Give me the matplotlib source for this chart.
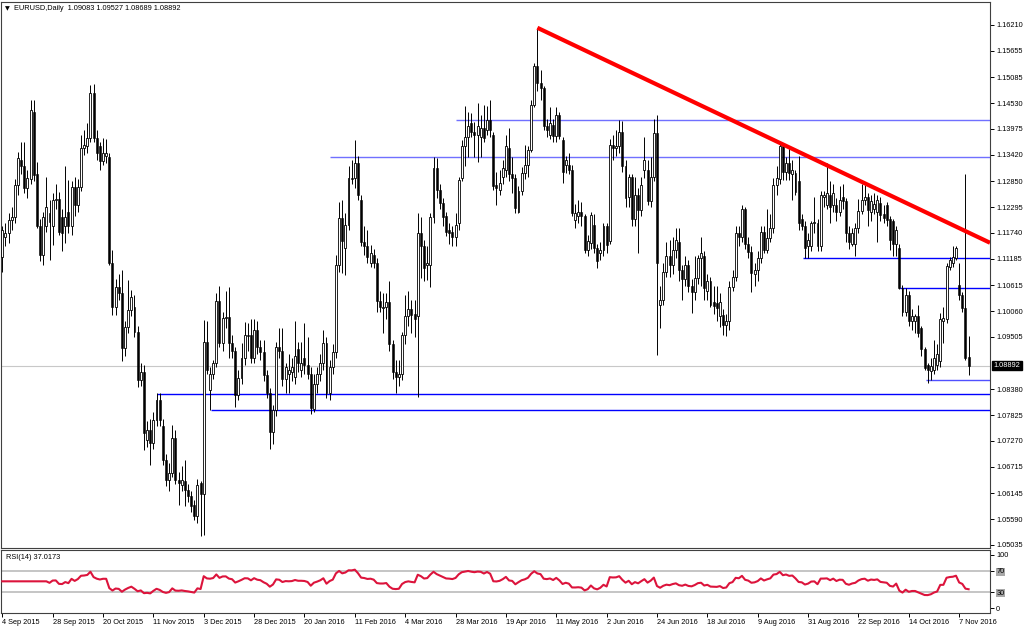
import numpy as np
import pandas as pd
import matplotlib
matplotlib.use("Agg")
import matplotlib.pyplot as plt

# EURUSD daily bars, 4 Sep 2015 .. 10 Nov 2016
opens = [
    1.1123, 1.1166, 1.1173, 1.1202, 1.1209, 1.1277, 1.1331, 1.1317, 1.1270, 1.1290,
    1.1435, 1.1300, 1.1188, 1.1127, 1.1188, 1.1216, 1.1188, 1.1245, 1.1248, 1.1209,
    1.1188, 1.1220, 1.1188, 1.1273, 1.1234, 1.1273, 1.1356, 1.1360, 1.1378, 1.1474,
    1.1378, 1.1360, 1.1328, 1.1340, 1.1338, 1.1109, 1.1016, 1.1059, 1.1045, 1.0927,
    1.0973, 1.1009, 1.1016, 1.0962, 1.0858, 1.0876, 1.0730, 1.0751, 1.0723, 1.0773,
    1.0816, 1.0760, 1.0687, 1.0644, 1.0658, 1.0733, 1.0644, 1.0633, 1.0640, 1.0622,
    1.0608, 1.0590, 1.0565, 1.0636, 1.0613, 1.0940, 1.0837, 1.0872, 1.0894, 1.1027,
    1.0937, 1.0991, 1.0994, 1.0937, 1.0920, 1.0826, 1.0862, 1.0905, 1.0955, 1.0955,
    1.0905, 1.0966, 1.0930, 1.0918, 1.0869, 1.0830, 1.0746, 1.0794, 1.0930, 1.0920,
    1.0860, 1.0870, 1.0875, 1.0865, 1.0925, 1.0880, 1.0905, 1.0890, 1.0872, 1.0795,
    1.0850, 1.0870, 1.0895, 1.0937, 1.0830, 1.0885, 1.0918, 1.1105, 1.1206, 1.1141,
    1.1191, 1.1292, 1.1292, 1.1324, 1.1245, 1.1155, 1.1145, 1.1109, 1.1127, 1.1109,
    1.1027, 1.1013, 1.1016, 1.1025, 1.0935, 1.0875, 1.0865, 1.0870, 1.0955, 1.0995,
    1.1010, 1.1000, 1.0995, 1.1173, 1.1145, 1.1105, 1.1105, 1.1209, 1.1313, 1.1267,
    1.1238, 1.1210, 1.1180, 1.1177, 1.1165, 1.1195, 1.1292, 1.1360, 1.1381, 1.1410,
    1.1392, 1.1385, 1.1380, 1.1400, 1.1395, 1.1417, 1.1385, 1.1277, 1.1267, 1.1295,
    1.1310, 1.1356, 1.1300, 1.1292, 1.1220, 1.1265, 1.1302, 1.1320, 1.1352, 1.1449,
    1.1532, 1.1496, 1.1485, 1.1403, 1.1385, 1.1405, 1.1382, 1.1428, 1.1374, 1.1320,
    1.1320, 1.1310, 1.1202, 1.1210, 1.1220, 1.1210, 1.1138, 1.1152, 1.1191, 1.1141,
    1.1131, 1.1138, 1.1188, 1.1156, 1.1363, 1.1356, 1.1360, 1.1392, 1.1317, 1.1252,
    1.1295, 1.1205, 1.1256, 1.1224, 1.1310, 1.1310, 1.1242, 1.1295, 1.1388, 1.1020,
    1.1030, 1.1090, 1.1125, 1.1105, 1.1138, 1.1155, 1.1095, 1.1075, 1.1105, 1.1060,
    1.1048, 1.1077, 1.1120, 1.1125, 1.1050, 1.1070, 1.1025, 1.1023, 1.0995, 1.0998,
    1.0977, 1.0984, 1.1059, 1.1080, 1.1173, 1.1165, 1.1225, 1.1150, 1.1133, 1.1085,
    1.1095, 1.1120, 1.1177, 1.1138, 1.1163, 1.1184, 1.1277, 1.1290, 1.1360, 1.1305,
    1.1324, 1.1300, 1.1302, 1.1285, 1.1205, 1.1188, 1.1145, 1.1145, 1.1195, 1.1195,
    1.1145, 1.1252, 1.1235, 1.1255, 1.1235, 1.1235, 1.1220, 1.1252, 1.1242, 1.1174,
    1.1150, 1.1150, 1.1185, 1.1222, 1.1245, 1.1252, 1.1220, 1.1225, 1.1220, 1.1238,
    1.1215, 1.1235, 1.1205, 1.1200, 1.1150, 1.1141, 1.1055, 1.1005, 1.1040, 1.0985,
    1.0985, 1.0995, 1.0970, 1.0925, 1.0890, 1.0878, 1.0880, 1.0890, 1.0898, 1.0985,
    1.0990, 1.1100, 1.1110, 1.1120, 1.1062, 1.1040, 1.1013, 1.09083,
]
highs = [
    1.1190, 1.1195, 1.1216, 1.1230, 1.1290, 1.1349, 1.1370, 1.1370, 1.1310, 1.1460,
    1.1460, 1.1327, 1.1205, 1.1220, 1.1295, 1.1245, 1.1260, 1.1280, 1.1262, 1.1225,
    1.1317, 1.1288, 1.1285, 1.1295, 1.1290, 1.1385, 1.1395, 1.1410, 1.1492, 1.1495,
    1.1395, 1.1370, 1.1378, 1.1375, 1.1345, 1.1138, 1.1075, 1.1085, 1.1095, 1.0985,
    1.1073, 1.1052, 1.1040, 1.0975, 1.0894, 1.0890, 1.0770, 1.0775, 1.0790, 1.0830,
    1.0830, 1.0775, 1.0700, 1.0680, 1.0762, 1.0750, 1.0660, 1.0673, 1.0687, 1.0635,
    1.0620, 1.0600, 1.0645, 1.0640, 1.0986, 1.0985, 1.0885, 1.0900, 1.1045, 1.1060,
    1.1005, 1.1050, 1.1058, 1.0955, 1.0930, 1.0880, 1.0937, 1.0983, 1.0980, 1.0990,
    1.0990, 1.0985, 1.0945, 1.0945, 1.0880, 1.0840, 1.0805, 1.0940, 1.0970, 1.0970,
    1.0895, 1.0915, 1.0905, 1.0985, 1.0940, 1.0940, 1.0980, 1.0950, 1.0885, 1.0870,
    1.0885, 1.0915, 1.0966, 1.0950, 1.0900, 1.0935, 1.1127, 1.1241, 1.1245, 1.1216,
    1.1317, 1.1330, 1.1374, 1.1340, 1.1256, 1.1190, 1.1180, 1.1148, 1.1140, 1.1120,
    1.1050, 1.1045, 1.1045, 1.1070, 1.0945, 1.0900, 1.0900, 1.0962, 1.1040, 1.1050,
    1.1030, 1.1030, 1.1216, 1.1209, 1.1160, 1.1145, 1.1216, 1.1338, 1.1335, 1.1280,
    1.1250, 1.1220, 1.1195, 1.1190, 1.1216, 1.1295, 1.1374, 1.1446, 1.1435, 1.1431,
    1.1413, 1.1453, 1.1428, 1.1450, 1.1446, 1.1460, 1.1390, 1.1306, 1.1310, 1.1331,
    1.1385, 1.1400, 1.1338, 1.1300, 1.1275, 1.1315, 1.1363, 1.1360, 1.1460, 1.1540,
    1.1614, 1.1525, 1.1490, 1.1420, 1.1445, 1.1420, 1.1445, 1.1435, 1.1380, 1.1340,
    1.1345, 1.1320, 1.1236, 1.1245, 1.1241, 1.1215, 1.1170, 1.1220, 1.1215, 1.1150,
    1.1155, 1.1195, 1.1195, 1.1375, 1.1385, 1.1395, 1.1417, 1.1415, 1.1330, 1.1300,
    1.1300, 1.1295, 1.1270, 1.1295, 1.1381, 1.1330, 1.1338, 1.1420, 1.1428, 1.1060,
    1.1110, 1.1155, 1.1160, 1.1165, 1.1185, 1.1185, 1.1105, 1.1125, 1.1115, 1.1075,
    1.1125, 1.1127, 1.1165, 1.1135, 1.1085, 1.1080, 1.1060, 1.1060, 1.1045, 1.1010,
    1.1000, 1.1070, 1.1095, 1.1190, 1.1190, 1.1235, 1.1230, 1.1165, 1.1145, 1.1110,
    1.1135, 1.1188, 1.1188, 1.1225, 1.1215, 1.1292, 1.1317, 1.1367, 1.1366, 1.1338,
    1.1360, 1.1330, 1.1310, 1.1340, 1.1215, 1.1200, 1.1175, 1.1200, 1.1252, 1.1205,
    1.1265, 1.1265, 1.1324, 1.1285, 1.1280, 1.1250, 1.1275, 1.1280, 1.1250, 1.1190,
    1.1185, 1.1195, 1.1248, 1.1280, 1.1278, 1.1260, 1.1255, 1.1260, 1.1255, 1.1252,
    1.1235, 1.1240, 1.1210, 1.1205, 1.1190, 1.1150, 1.1062, 1.1055, 1.1050, 1.1010,
    1.1000, 1.1020, 1.0975, 1.0930, 1.0895, 1.0905, 1.0945, 1.0935, 1.1001, 1.1015,
    1.1109, 1.1123, 1.1145, 1.1145, 1.1109, 1.1048, 1.1300, 1.09527,
]
lows = [
    1.1091, 1.1145, 1.1152, 1.1180, 1.1195, 1.1256, 1.1300, 1.1259, 1.1250, 1.1280,
    1.1285, 1.1184, 1.1113, 1.1105, 1.1177, 1.1116, 1.1148, 1.1225, 1.1170, 1.1135,
    1.1152, 1.1175, 1.1170, 1.1210, 1.1220, 1.1265, 1.1342, 1.1345, 1.1370, 1.1370,
    1.1330, 1.1310, 1.1320, 1.1325, 1.1105, 1.0998, 1.0998, 1.1030, 1.0898, 1.0909,
    1.0960, 1.0995, 1.0950, 1.0844, 1.0845, 1.0708, 1.0715, 1.0675, 1.0710, 1.0760,
    1.0760, 1.0675, 1.0630, 1.0619, 1.0650, 1.0635, 1.0590, 1.0620, 1.0587, 1.0595,
    1.0575, 1.0558, 1.0550, 1.0522, 1.0524, 1.0870, 1.0793, 1.0860, 1.0885, 1.0930,
    1.0920, 1.0970, 1.0905, 1.0905, 1.0801, 1.0815, 1.0850, 1.0890, 1.0920, 1.0895,
    1.0895, 1.0915, 1.0900, 1.0855, 1.0820, 1.0710, 1.0720, 1.0780, 1.0905, 1.0845,
    1.0830, 1.0830, 1.0855, 1.0850, 1.0875, 1.0865, 1.0870, 1.0860, 1.0785, 1.0790,
    1.0830, 1.0855, 1.0880, 1.0820, 1.0815, 1.0870, 1.0905, 1.1090, 1.1088, 1.1084,
    1.1180, 1.1280, 1.1270, 1.1245, 1.1145, 1.1127, 1.1109, 1.1100, 1.1098, 1.1005,
    1.1005, 1.0960, 1.0990, 1.0920, 1.0860, 1.0830, 1.0845, 1.0858, 1.0935, 1.0975,
    1.0960, 1.0950, 1.0822, 1.1077, 1.1070, 1.1073, 1.1059, 1.1195, 1.1250, 1.1225,
    1.1188, 1.1167, 1.1150, 1.1145, 1.1145, 1.1180, 1.1285, 1.1317, 1.1338, 1.1380,
    1.1338, 1.1327, 1.1338, 1.1370, 1.1385, 1.1380, 1.1267, 1.1235, 1.1255, 1.1280,
    1.1295, 1.1285, 1.1260, 1.1216, 1.1216, 1.1255, 1.1290, 1.1295, 1.1348, 1.1445,
    1.1480, 1.1460, 1.1395, 1.1380, 1.1375, 1.1370, 1.1370, 1.1375, 1.1281, 1.1303,
    1.1300, 1.1210, 1.1185, 1.1195, 1.1188, 1.1131, 1.1125, 1.1140, 1.1130, 1.1098,
    1.1115, 1.1125, 1.1130, 1.1150, 1.1330, 1.1340, 1.1345, 1.1305, 1.1230, 1.1230,
    1.1188, 1.1188, 1.1130, 1.1210, 1.1292, 1.1235, 1.1230, 1.1285, 1.0912, 1.0970,
    1.1020, 1.1080, 1.1080, 1.1085, 1.1120, 1.1070, 1.1030, 1.1060, 1.1048, 1.1002,
    1.1030, 1.1065, 1.1060, 1.1030, 1.1030, 1.1015, 1.1000, 1.0985, 1.0973, 1.0955,
    1.0952, 1.0966, 1.1050, 1.1070, 1.1145, 1.1155, 1.1140, 1.1120, 1.1048, 1.1060,
    1.1070, 1.1110, 1.1130, 1.1130, 1.1155, 1.1175, 1.1255, 1.1280, 1.1287, 1.1288,
    1.1288, 1.1245, 1.1255, 1.1180, 1.1180, 1.1120, 1.1120, 1.1135, 1.1175, 1.1135,
    1.1135, 1.1230, 1.1225, 1.1195, 1.1220, 1.1200, 1.1210, 1.1225, 1.1155, 1.1140,
    1.1145, 1.1125, 1.1175, 1.1215, 1.1235, 1.1190, 1.1200, 1.1215, 1.1155, 1.1200,
    1.1195, 1.1190, 1.1138, 1.1125, 1.1125, 1.1053, 1.0995, 1.0995, 1.0975, 1.0965,
    1.0960, 1.0950, 1.0910, 1.0880, 1.0851, 1.0858, 1.0870, 1.0880, 1.0885, 1.0937,
    1.0980, 1.1095, 1.1100, 1.1115, 1.1030, 1.1005, 1.0900, 1.08689,
]
closes = [
    1.1180, 1.1173, 1.1202, 1.1209, 1.1277, 1.1335, 1.1317, 1.1270, 1.1292, 1.1438,
    1.1299, 1.1188, 1.1127, 1.1209, 1.1230, 1.1198, 1.1245, 1.1248, 1.1177, 1.1173,
    1.1209, 1.1188, 1.1273, 1.1234, 1.1273, 1.1356, 1.1363, 1.1378, 1.1474, 1.1378,
    1.1345, 1.1328, 1.1345, 1.1345, 1.1109, 1.1016, 1.1059, 1.1045, 1.0927, 1.0973,
    1.1009, 1.1037, 1.0962, 1.0858, 1.0876, 1.0744, 1.0751, 1.0723, 1.0773, 1.0816,
    1.0773, 1.0687, 1.0644, 1.0658, 1.0733, 1.0644, 1.0637, 1.0644, 1.0622, 1.0608,
    1.0587, 1.0565, 1.0633, 1.0613, 1.0940, 1.0880, 1.0872, 1.0894, 1.1027, 1.0937,
    1.0991, 1.0994, 1.0937, 1.0920, 1.0826, 1.0862, 1.0905, 1.0955, 1.0952, 1.0905,
    1.0966, 1.0930, 1.0918, 1.0869, 1.0830, 1.0746, 1.0794, 1.0930, 1.0920, 1.0860,
    1.0885, 1.0880, 1.0885, 1.0910, 1.0894, 1.0894, 1.0890, 1.0872, 1.0797, 1.0850,
    1.0870, 1.0895, 1.0937, 1.0830, 1.0885, 1.0918, 1.1105, 1.1206, 1.1156, 1.1191,
    1.1292, 1.1290, 1.1324, 1.1256, 1.1155, 1.1145, 1.1123, 1.1130, 1.1109, 1.1027,
    1.1016, 1.1016, 1.1025, 1.0935, 1.0875, 1.0865, 1.0870, 1.0955, 1.0995, 1.1010,
    1.0998, 1.0990, 1.1173, 1.1145, 1.1098, 1.1109, 1.1209, 1.1313, 1.1267, 1.1238,
    1.1209, 1.1177, 1.1173, 1.1165, 1.1191, 1.1288, 1.1360, 1.1381, 1.1403, 1.1392,
    1.1385, 1.1403, 1.1400, 1.1378, 1.1417, 1.1395, 1.1274, 1.1270, 1.1282, 1.1313,
    1.1360, 1.1300, 1.1292, 1.1227, 1.1265, 1.1302, 1.1320, 1.1352, 1.1449, 1.1532,
    1.1496, 1.1485, 1.1403, 1.1395, 1.1410, 1.1382, 1.1428, 1.1382, 1.1306, 1.1330,
    1.1310, 1.1217, 1.1216, 1.1220, 1.1210, 1.1138, 1.1156, 1.1213, 1.1141, 1.1113,
    1.1138, 1.1188, 1.1148, 1.1363, 1.1356, 1.1360, 1.1392, 1.1317, 1.1249, 1.1295,
    1.1205, 1.1256, 1.1224, 1.1277, 1.1331, 1.1242, 1.1295, 1.1388, 1.1109, 1.1030,
    1.1090, 1.1125, 1.1105, 1.1138, 1.1158, 1.1095, 1.1075, 1.1105, 1.1060, 1.1048,
    1.1077, 1.1120, 1.1130, 1.1055, 1.1070, 1.1020, 1.1017, 1.1012, 1.1025, 1.0977,
    1.0985, 1.1059, 1.1080, 1.1173, 1.1165, 1.1225, 1.1150, 1.1133, 1.1087, 1.1095,
    1.1120, 1.1177, 1.1138, 1.1163, 1.1184, 1.1277, 1.1292, 1.1360, 1.1305, 1.1324,
    1.1302, 1.1310, 1.1263, 1.1195, 1.1188, 1.1142, 1.1158, 1.1195, 1.1198, 1.1145,
    1.1255, 1.1256, 1.1260, 1.1230, 1.1260, 1.1220, 1.1245, 1.1242, 1.1174, 1.1155,
    1.1175, 1.1185, 1.1222, 1.1245, 1.1252, 1.1224, 1.1242, 1.1237, 1.1245, 1.1213,
    1.1207, 1.1202, 1.1160, 1.1150, 1.1181, 1.1055, 1.1005, 1.1040, 1.0985, 1.0995,
    1.0995, 1.0960, 1.0925, 1.0883, 1.0880, 1.0888, 1.0905, 1.0915, 1.0990, 1.0991,
    1.1102, 1.1116, 1.1122, 1.1141, 1.1040, 1.1013, 1.0905, 1.08892,
]

date_labels = ["4 Sep 2015", "28 Sep 2015", "20 Oct 2015", "11 Nov 2015", "3 Dec 2015",
               "28 Dec 2015", "20 Jan 2016", "11 Feb 2016", "4 Mar 2016", "28 Mar 2016",
               "19 Apr 2016", "11 May 2016", "2 Jun 2016", "24 Jun 2016", "18 Jul 2016",
               "9 Aug 2016", "31 Aug 2016", "22 Sep 2016", "14 Oct 2016", "7 Nov 2016"]
bars_per_label = 16

price_ticks = [1.16210, 1.15655, 1.15085, 1.14530, 1.13975, 1.13420, 1.12850, 1.12295,
               1.11740, 1.11185, 1.10615, 1.10060, 1.09505, 1.08380, 1.07825, 1.07270,
               1.06715, 1.06145, 1.05590, 1.05035]

# horizontal levels drawn on the chart and the bar where each one starts
level_prices = [1.14162, 1.13380, 1.11196, 1.10552, 1.08581, 1.08274, 1.07930]
level_starts = [144.3, 104.1, 254.4, 285.2, 293.4, 49.1, 66.2]
level_colors = ["#7070ff", "#7070ff", "#0000ff", "#0000ff", "#5050ff", "#0000ff", "#0000ff"]

# red resistance trendline (May high -> right edge)
trend_x = [170, 313.8]
trend_y = [1.1615, 1.1153]

last_price = 1.08892
title = "EURUSD,Daily  1.09083 1.09527 1.08689 1.08892"
rsi_label = "RSI(14) 37.0173"

plt.rcParams["font.family"] = ["Liberation Sans", "DejaVu Sans"]
FS = 5.3

W, H = 1024, 630
fig = plt.figure(figsize=(W / 100, H / 100), dpi=100)
fig.patch.set_facecolor("white")

ax = fig.add_axes([1 / W, 1 - 548.3 / H, 989 / W, 546.3 / H])
ax_rsi = fig.add_axes([1 / W, 1 - 613 / H, 989 / W, 63 / H])

x = np.arange(len(closes))
o, h, l, c = (np.array(v) for v in (opens, highs, lows, closes))
up = c >= o

# current price line behind everything
ax.axhline(last_price, color="#c8c8c8", lw=0.8, zorder=1)

for p, s, col in zip(level_prices, level_starts, level_colors):
    ax.hlines(p, s, 400, color=col, lw=1.0, zorder=2)

ax.vlines(x, l, h, color="black", lw=0.7, zorder=3)
ax.bar(x[up], np.maximum((c - o)[up], 0.00003), bottom=o[up], width=0.62,
       facecolor="white", edgecolor="black", lw=0.6, zorder=4)
ax.bar(x[~up], (o - c)[~up], bottom=c[~up], width=0.62,
       facecolor="black", edgecolor="black", lw=0.4, zorder=4)

ax.plot(trend_x, trend_y, color="#ff0000", lw=3.0, solid_capstyle="butt", zorder=5)

ax.set_xlim(-0.41, 313.8)
ax.set_ylim(1.04964, 1.16704)
ax.set_xticks([])
ax.yaxis.tick_right()
ax.set_yticks(price_ticks)
ax.set_yticklabels([f"{t:.5f}" for t in price_ticks])
ax.tick_params(axis="y", direction="out", length=3, width=0.7, pad=1.5, labelsize=FS)
for sp in ax.spines.values():
    sp.set_linewidth(0.8)
    sp.set_color("#404040")

ax.annotate(f"{last_price:.5f}", xy=(1.0, last_price), xycoords=("axes fraction", "data"),
            xytext=(2.5, 0), textcoords="offset points", ha="left", va="center",
            color="white", fontsize=FS,
            bbox=dict(boxstyle="square,pad=0.2", facecolor="black", edgecolor="black"))

fig.text(5 / W, 1 - 8.5 / H, "\u25bc", family="DejaVu Sans", fontsize=4.5, va="center")
fig.text(14 / W, 1 - 8.5 / H, title, fontsize=FS, va="center")

# RSI(14) from the closes
s = pd.Series(closes)
d = s.diff()
gain = d.clip(lower=0)
loss = -d.clip(upper=0)
ag = gain.ewm(alpha=1 / 14, adjust=True, min_periods=14).mean()
al = loss.ewm(alpha=1 / 14, adjust=True, min_periods=14).mean()
rsi = (100 - 100 / (1 + ag / al)).bfill()

ax_rsi.axhline(70, color="#c0c0c0", lw=1.3, zorder=1)
ax_rsi.axhline(30, color="#c0c0c0", lw=1.3, zorder=1)
ax_rsi.plot(x, rsi, color="#dc143c", lw=1.5, zorder=3)
ax_rsi.set_xlim(-0.41, 313.8)
ax_rsi.set_ylim(-9.4, 109.4)
ax_rsi.yaxis.tick_right()
ax_rsi.set_yticks([100, 70, 30, 0])
ax_rsi.set_yticklabels(["100", "70", "30", "0"])
ax_rsi.tick_params(axis="y", direction="out", length=3, width=0.7, pad=1.5, labelsize=FS)
for lab in ax_rsi.get_yticklabels():
    if lab.get_text() in ("70", "30"):
        lab.set_bbox(dict(boxstyle="square,pad=0.1", facecolor="#a8a8a8", edgecolor="none"))

tick_pos = [bars_per_label * k for k in range(len(date_labels))]
ax_rsi.set_xticks(tick_pos)
ax_rsi.set_xticklabels(date_labels, ha="left")
ax_rsi.tick_params(axis="x", direction="out", length=3, width=0.7, pad=1, labelsize=FS)
for sp in ax_rsi.spines.values():
    sp.set_linewidth(0.8)
    sp.set_color("#404040")

ax_rsi.text(5 / 989, 0.93, rsi_label, transform=ax_rsi.transAxes, fontsize=FS, va="top")

fig.savefig("out.png", dpi=100, facecolor="white")
